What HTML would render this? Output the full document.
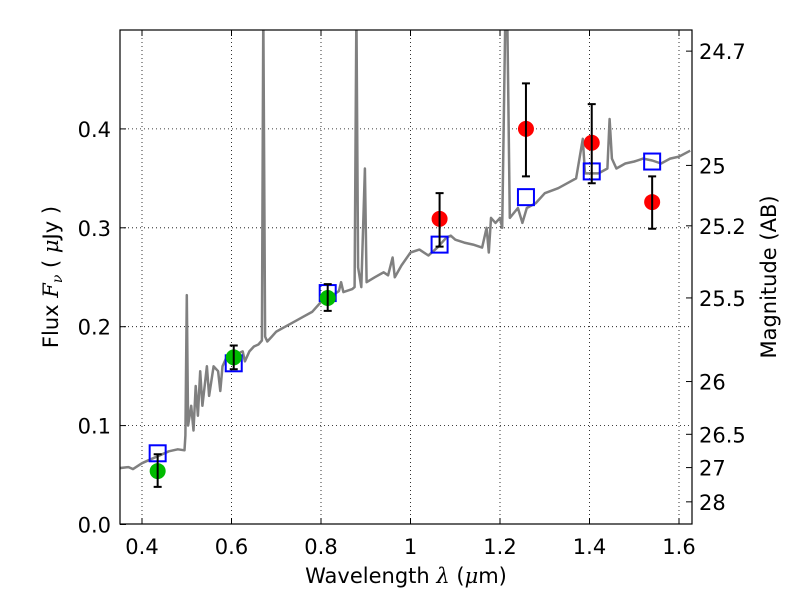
<!DOCTYPE html>
<html><head><meta charset="utf-8"><style>
body{margin:0;background:#fff;}
svg{font-family:"DejaVu Sans","Liberation Sans",sans-serif;}
</style></head><body>
<svg id="chart" width="800" height="600" xmlns="http://www.w3.org/2000/svg">
<defs><clipPath id="plotclip"><rect x="120" y="30" width="572" height="494"/></clipPath></defs>
<rect x="0" y="0" width="800" height="600" fill="#fff"/>
<g id="grid"></g>
<g id="spec" clip-path="url(#plotclip)"></g>
<g id="marks"></g>
<rect x="120" y="30" width="572" height="494" fill="none" stroke="#000" stroke-width="1.2"/>
<g id="axes"></g>
<text x="406" y="583" font-size="21" text-anchor="middle">Wavelength  <tspan font-style="italic" font-family="DejaVu Serif,serif">λ</tspan> (<tspan font-style="italic" font-family="DejaVu Serif,serif">μ</tspan>m)</text>
<text transform="translate(58,277) rotate(-90)" font-size="21" text-anchor="middle">Flux  <tspan font-style="italic" font-family="DejaVu Serif,serif">F<tspan font-size="14" dy="4">ν</tspan></tspan><tspan dy="-4">  ( </tspan><tspan font-style="italic" font-family="DejaVu Serif,serif">μ</tspan>Jy )</text>
<text transform="translate(776,277) rotate(-90)" font-size="21" text-anchor="middle">Magnitude (AB)</text>
</svg>
<script>
const xTicks=[0.4,0.6,0.8,1.0,1.2,1.4,1.6];
const xTickLabels=["0.4","0.6","0.8","1","1.2","1.4","1.6"];
const yTicks=[0,0.1,0.2,0.3,0.4];
const yTickLabels=["0.0","0.1","0.2","0.3","0.4"];
const magTicks=[24.7,25,25.2,25.5,26,26.5,27,28];
const magTickLabels=["24.7","25","25.2","25.5","26","26.5","27","28"];
const photWave=[0.435,0.605,0.815,1.065,1.258,1.405,1.54];
const photFlux=[0.054,0.169,0.229,0.309,0.400,0.386,0.326];
const photLo=[0.038,0.157,0.216,0.281,0.352,0.345,0.299];
const photHi=[0.071,0.181,0.243,0.335,0.446,0.425,0.352];
const photColor=["#00bb00","#00bb00","#00bb00","#ff0000","#ff0000","#ff0000","#ff0000"];
const modelFlux=[0.072,0.163,0.234,0.283,0.331,0.357,0.367];
const specWave=[0.35,0.37,0.38,0.40,0.42,0.44,0.46,0.48,0.495,0.497,0.50,0.503,0.51,0.515,0.52,0.525,0.53,0.535,0.545,0.55,0.56,0.57,0.575,0.58,0.59,0.61,0.625,0.63,0.64,0.65,0.66,0.668,0.671,0.675,0.68,0.69,0.70,0.72,0.74,0.76,0.78,0.80,0.82,0.84,0.845,0.85,0.87,0.875,0.879,0.883,0.89,0.898,0.902,0.92,0.94,0.95,0.96,0.965,0.98,1.0,1.02,1.04,1.06,1.08,1.09,1.10,1.12,1.14,1.16,1.17,1.175,1.18,1.19,1.20,1.205,1.212,1.216,1.222,1.24,1.25,1.26,1.28,1.30,1.33,1.35,1.37,1.385,1.39,1.42,1.44,1.445,1.45,1.46,1.48,1.50,1.52,1.54,1.56,1.58,1.60,1.625];
const specFlux=[0.057,0.058,0.056,0.062,0.066,0.070,0.074,0.076,0.075,0.09,0.232,0.10,0.12,0.095,0.14,0.11,0.155,0.12,0.16,0.13,0.16,0.155,0.135,0.16,0.17,0.172,0.175,0.165,0.175,0.18,0.182,0.186,0.52,0.19,0.185,0.19,0.195,0.20,0.205,0.21,0.215,0.225,0.23,0.236,0.245,0.235,0.238,0.24,0.52,0.26,0.24,0.36,0.245,0.25,0.255,0.252,0.27,0.25,0.262,0.275,0.278,0.272,0.28,0.29,0.292,0.288,0.285,0.283,0.28,0.30,0.275,0.31,0.305,0.31,0.30,0.52,0.52,0.31,0.32,0.305,0.32,0.325,0.335,0.34,0.345,0.35,0.39,0.355,0.355,0.36,0.41,0.37,0.36,0.365,0.367,0.37,0.368,0.365,0.37,0.372,0.378];
const NS="http://www.w3.org/2000/svg";
const X=w=>142+(w-0.4)*447.5;
const Y=f=>524.5-f*989;
const magToFlux=m=>Math.pow(10,(23.9-m)/2.5);
function mk(tag,attrs,parent,text){const e=document.createElementNS(NS,tag);for(const k in attrs)e.setAttribute(k,attrs[k]);if(text!==undefined)e.textContent=text;parent.appendChild(e);return e;}
const grid=document.getElementById('grid'),axes=document.getElementById('axes'),spec=document.getElementById('spec'),marks=document.getElementById('marks');
xTicks.forEach((t,i)=>{
 const x=X(t);
 const g=mk('line',{x1:x,x2:x,y1:30,y2:524,stroke:'#000','stroke-width':0.8,'stroke-dasharray':'1,3'},grid);
 
 
 mk('line',{x1:x,x2:x,y1:524,y2:518,stroke:'#000'},axes);
 mk('line',{x1:x,x2:x,y1:30,y2:36,stroke:'#000'},axes);
 const l=mk('text',{x:x,y:554,'font-size':21,'text-anchor':'middle'},axes,xTickLabels[i]);
 
 
});
yTicks.forEach((t,i)=>{
 const y=Y(t);
 if(t>0){const g=mk('line',{x1:120,x2:692,y1:y,y2:y,stroke:'#000','stroke-width':0.8,'stroke-dasharray':'1,3'},grid);
 
 }
 mk('line',{x1:120,x2:126,y1:y,y2:y,stroke:'#000'},axes);
 const l=mk('text',{x:111,y:y+8,'font-size':21,'text-anchor':'end'},axes,yTickLabels[i]);
 
 
});
magTicks.forEach((m,i)=>{
 const y=Y(magToFlux(m));
 mk('line',{x1:692,x2:686,y1:y,y2:y,stroke:'#000'},axes);
 const l=mk('text',{x:699,y:y+8,'font-size':21},axes,magTickLabels[i]);
 
 
});
const pts=specWave.map((w,i)=>X(w).toFixed(1)+','+Y(specFlux[i]).toFixed(1)).join(' ');
const pl=mk('polyline',{points:pts,fill:'none',stroke:'#808080','stroke-width':2.5,'stroke-linejoin':'round'},spec);


photWave.forEach((w,i)=>{
 const x=X(w);
 const sq=mk('rect',{x:x-8,y:Y(modelFlux[i])-8,width:16,height:16,fill:'none',stroke:'#0000ff','stroke-width':2},marks);
 
 
 const c=mk('circle',{cx:x,cy:Y(photFlux[i]),r:8,fill:photColor[i]},marks);
 
 
 const y1=Y(photLo[i]),y2=Y(photHi[i]);
 const eb=mk('path',{d:`M${x},${y1}V${y2}M${x-4},${y1}H${x+4}M${x-4},${y2}H${x+4}`,stroke:'#000','stroke-width':2,fill:'none'},marks);
 
 
});
</script>
</body></html>
